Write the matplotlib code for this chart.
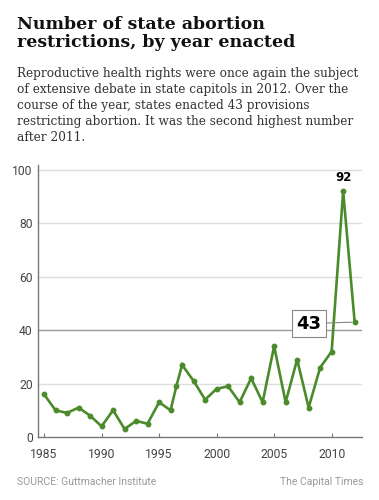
import matplotlib
matplotlib.use("Agg")
import matplotlib.pyplot as plt

# restrictions enacted per year
years = [1985, 1986, 1987, 1988, 1989, 1990, 1991, 1992, 1993, 1994, 1995,
         1996, 1996.5, 1997, 1998, 1999, 2000, 2001, 2002, 2003, 2004, 2005,
         2006, 2007, 2008, 2009, 2010, 2011, 2012]
counts = [16, 10, 9, 11, 8, 4, 10, 3, 6, 5, 13,
          10, 19, 27, 21, 14, 18, 19, 13, 22, 13, 34,
          13, 29, 11, 26, 32, 92, 43]
x_ticks = [1985, 1990, 1995, 2000, 2005, 2010]
y_ticks = [0, 20, 40, 60, 80, 100]

GREEN = "#4b8b2b"
TICK_GRAY = "#444444"

fig = plt.figure(figsize=(3.79, 5.0), dpi=100)

fig.text(0.045, 0.968, "Number of state abortion\nrestrictions, by year enacted",
         family="DejaVu Serif", weight="bold", fontsize=12.5, va="top",
         linespacing=1.1, color="#111111")
fig.text(0.045, 0.866,
         "Reproductive health rights were once again the subject\n"
         "of extensive debate in state capitols in 2012. Over the\n"
         "course of the year, states enacted 43 provisions\n"
         "restricting abortion. It was the second highest number\n"
         "after 2011.",
         family="DejaVu Serif", fontsize=8.7, va="top", linespacing=1.3,
         color="#333333")

ax = fig.add_axes([0.101, 0.126, 0.853, 0.545])
ax.plot(years, counts, color=GREEN, lw=1.9, marker="o", ms=3.2,
        solid_joinstyle="miter", zorder=3)

ax.set_xlim(1984.5, 2012.6)
ax.set_ylim(0, 102)
ax.set_xticks(x_ticks)
ax.set_yticks(y_ticks)
for v in y_ticks[1:]:
    c = "#999999" if v == 40 else "#dddddd"
    ax.axhline(v, color=c, lw=1.0, zorder=1)

for s in ["top", "right"]:
    ax.spines[s].set_visible(False)
for s in ["left", "bottom"]:
    ax.spines[s].set_color("#777777")
    ax.spines[s].set_linewidth(1.0)
ax.tick_params(axis="x", direction="in", length=3, color="#777777", pad=8,
               labelsize=8.7, labelcolor=TICK_GRAY)
ax.tick_params(axis="y", length=0, pad=4, labelsize=8.7, labelcolor=TICK_GRAY)
for lab in ax.get_xticklabels() + ax.get_yticklabels():
    lab.set_family("Roboto")

# labels for the last two years
ax.annotate(str(counts[-2]), (years[-2], counts[-2]), xytext=(0, 5),
            textcoords="offset points", ha="center", va="bottom",
            family="DejaVu Sans", weight="bold", fontsize=8.5)
ax.annotate(str(counts[-1]), (years[-1], counts[-1]), xytext=(-33, -1),
            textcoords="offset points", ha="center", va="center",
            family="DejaVu Sans", weight="bold", fontsize=13,
            bbox=dict(boxstyle="square,pad=0.25", fc="white", ec="#888888", lw=0.8),
            arrowprops=dict(arrowstyle="-", color="#888888", lw=0.8,
                            shrinkA=0, shrinkB=2))

fig.text(0.045, 0.036, "SOURCE: Guttmacher Institute", family="Roboto",
         fontsize=7.5, color="#999999", va="center")
fig.text(0.958, 0.036, "The Capital Times", family="Roboto",
         fontsize=7.5, color="#999999", va="center", ha="right")

fig.savefig("out.png", dpi=100)
